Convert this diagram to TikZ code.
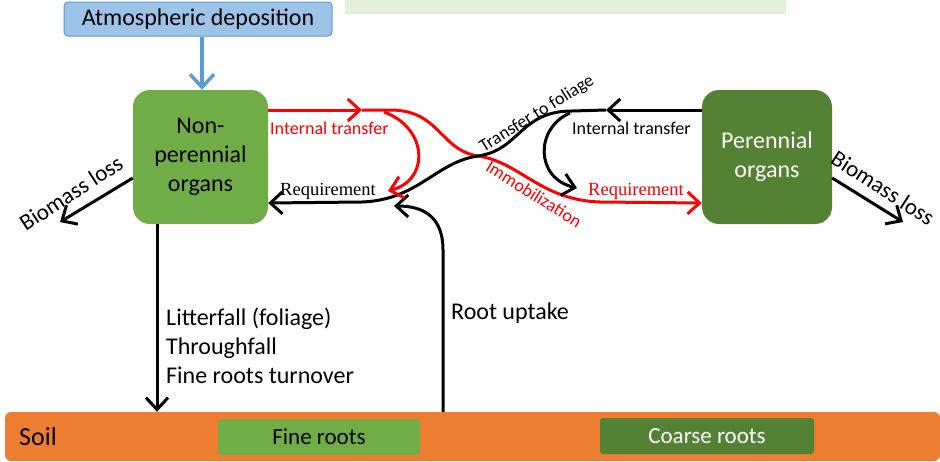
\documentclass[tikz,border=0pt]{standalone}
\usepackage{fontspec}
\setmainfont{Carlito}
\newfontfamily\reqfont{Liberation Serif}
\usetikzlibrary{arrows.meta}
\definecolor{lgreen}{HTML}{70AD47}
\definecolor{dgreen}{HTML}{548235}
\definecolor{soilc}{HTML}{ED7D31}
\definecolor{bfill}{HTML}{9DC3E6}
\definecolor{bdraw}{HTML}{5B9BD5}
\definecolor{pale}{HTML}{E2F0D9}
\tikzset{
  organbox/.style={rounded corners=17pt, inner sep=0pt, align=center, font=\fontsize{24}{29}\selectfont},
  rootbox/.style={rounded corners=3pt, inner sep=0pt, font=\fontsize{23}{26}\selectfont},
  flow/.style={line width=3pt, black},
  rflow/.style={line width=3pt, red},
  tip/.style={-{Straight Barb[length=12pt,width=22pt]}},
  lbl/.style={font=\fontsize{24}{29}\selectfont, inner sep=0pt},
  slbl/.style={font=\fontsize{18}{21}\selectfont, inner sep=0pt},
  reqlbl/.style={font=\reqfont\fontsize{18.5}{21}\selectfont, inner sep=0pt},
}
\begin{document}
\begin{tikzpicture}[x=1pt,y=-1pt]
\useasboundingbox (0,0) rectangle (940,461);
% pale box at top
\fill[pale] (345,0) rectangle (786,14);
% atmospheric deposition
\node[draw=bdraw, fill=bfill, line width=1pt, rounded corners=4pt, minimum width=268pt, minimum height=34pt, inner sep=0pt, font=\fontsize{24}{26}\selectfont] (atm) at (198,19) {Atmospheric deposition};
% organ boxes
\node[organbox, fill=lgreen, minimum width=135pt, minimum height=134pt] (np) at (200.5,157) {Non-\\perennial\\organs};
\node[organbox, fill=dgreen, text=white, minimum width=130pt, minimum height=134pt] (pe) at (767,157) {Perennial\\organs};
% soil
\node[fill=soilc, rounded corners=6pt, minimum width=935pt, minimum height=49pt, inner sep=0pt] (soil) at (472.5,436.5) {};
\node[lbl, anchor=west, font=\fontsize{26}{28}\selectfont] (soiltxt) at (19,437) {Soil};
\node[rootbox, fill=lgreen, minimum width=202pt, minimum height=36pt] (fine) at (319,437) {Fine roots};
\node[rootbox, fill=dgreen, text=white, minimum width=214pt, minimum height=36pt] (coarse) at (707,436) {Coarse roots};
% deposition arrow
\draw[bdraw, line width=3.4pt, -{Straight Barb[length=13pt,width=24pt]}] (atm.south -| 202,0) -- (np.north -| 202,0);
% biomass losses
\coordinate (bl1) at (60,222);
\coordinate (bl2) at (903,222);
\draw[flow, tip] (np.west |- 0,178) -- (bl1);
\draw[flow, tip] (pe.east |- 0,178) -- (bl2);
\node[lbl, rotate=33, font=\fontsize{23}{28}\selectfont] (bltxt1) at (71,193) {Biomass loss};
\node[lbl, rotate=-33, font=\fontsize{23}{28}\selectfont] (bltxt2) at (883,188) {Biomass loss};
% litterfall
\draw[flow, tip] (np.south -| 157,0) -- (soil.north -| 157,0);
\node[lbl, anchor=west, align=left] (litter) at (166,346) {Litterfall (foliage)\\Throughfall\\Fine roots turnover};
% root uptake
\coordinate (ru) at (394,206);
\draw[flow, tip] (soil.north -| 443,0) -- (443,250) .. controls (443,218) and (425,206) .. (ru);
\node[lbl, anchor=west] (rutxt) at (451,313) {Root uptake};
% red main S path
\coordinate (rA) at (362,110);
\coordinate (cross) at (478,156);
\draw[rflow, tip] (np.east |- 0,110) -- (rA);
\draw[rflow, tip] (rA) -- (392,110) .. controls (440,111) and (440,150) .. (cross)
   .. controls (520,162) and (540,200) .. (600,202) -- (pe.west |- 0,203);
% black main S path
\coordinate (bA) at (606,110);
\draw[flow, tip] (pe.west |- 0,110) -- (bA);
\draw[flow, tip] (bA) -- (572,111) .. controls (520,111) and (520,150) .. (cross)
   .. controls (436,162) and (418,200) .. (362,202) -- (np.east |- 0,203);
% red internal transfer branch
\coordinate (rB) at (388,191);
\draw[rflow, tip] (384,112) .. controls (428,128) and (430,180) .. (rB);
% black internal transfer branch
\coordinate (bB) at (577,188);
\draw[flow, tip] (570,113) .. controls (535,128) and (535,178) .. (bB);
% labels
\node[slbl, text=red, anchor=west] (itl) at (270,128) {Internal transfer};
\node[slbl, anchor=west] (itr) at (572,128) {Internal transfer};
\node[reqlbl, anchor=west] (rql) at (280,191) {Requirement};
\node[reqlbl, text=red, anchor=west] (rqr) at (588,191) {Requirement};
\node[slbl, rotate=32] (tf) at (537,114) {Transfer to foliage};
\node[slbl, text=red, rotate=-32] (imm) at (534,194) {Immobilization};
\end{tikzpicture}
\end{document}
